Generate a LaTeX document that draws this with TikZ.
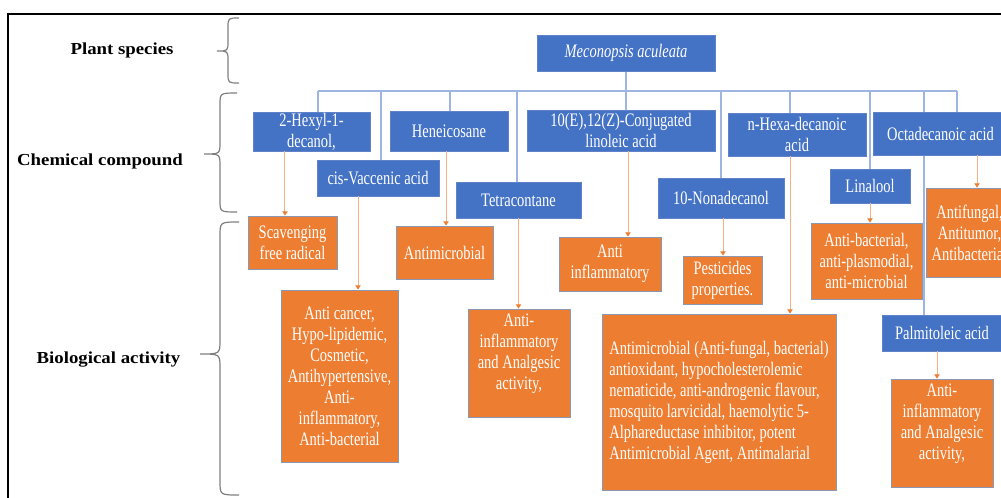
\documentclass[tikz,border=0pt]{standalone}
\usepackage{fontspec}
\setmainfont{Liberation Serif}
\newfontfamily\boxfamily{Liberation Serif}[FakeStretch=0.76]
\newfontfamily\headfamily{Liberation Serif}[FakeStretch=1.12]
\usetikzlibrary{arrows.meta,backgrounds}
\definecolor{compblue}{HTML}{4472C4}
\definecolor{compedge}{HTML}{5F82C9}
\definecolor{actorange}{HTML}{ED7D31}
\definecolor{actedge}{HTML}{8A98B5}
\definecolor{busblue}{HTML}{9DB5E0}
\definecolor{arrowpeach}{HTML}{F4B183}
\definecolor{bracegray}{HTML}{7F7F7F}

\begin{document}
\begin{tikzpicture}[x=0.75pt,y=-0.75pt,
    boxtext/.style={font=\boxfamily\fontsize{14.3pt}{15.75pt}\selectfont},
    compound/.style={boxtext, rectangle, fill=compblue, draw=compedge, line width=0.5pt,
                     text=white, align=center, inner sep=0pt},
    activity/.style={boxtext, rectangle, fill=actorange, draw=actedge, line width=0.6pt,
                     text=white, align=center, inner sep=0pt},
    heading/.style={font=\headfamily\bfseries\fontsize{12.6pt}{15pt}\selectfont},
    bracket/.style={draw=bracegray, line width=0.9pt},
    busline/.style={draw=busblue, line width=1.1pt},
    actarrow/.style={draw=arrowpeach, line width=0.75pt,
                     -{Triangle[length=3.2pt,width=4pt,color=actorange]}}]
    \useasboundingbox (0,0) rectangle (1001,497);
    \draw[line width=1.5pt] (8.3,13.8) rectangle (1040,540);

    % level names and braces
    \node[heading] (plantlbl) at (122,50) {Plant species};
    \node[heading] (complbl) at (100,161) {Chemical compound};
    \node[heading] (biolbl) at (108.5,360) {Biological activity};
    \draw[bracket] (239,18) .. controls (228,18) .. (228,28) -- (228,41)
        .. controls (228,51) .. (217,51) .. controls (228,51) .. (228,61) -- (228,73)
        .. controls (228,83) .. (239,83);
    \draw[bracket] (237,93) .. controls (220,93) .. (220,105) -- (220,142)
        .. controls (220,154) .. (204,154) .. controls (220,154) .. (220,166) -- (220,200)
        .. controls (220,212) .. (237,212);
    \draw[bracket] (239,222) .. controls (220,222) .. (220,236) -- (220,340)
        .. controls (220,354) .. (200,354) .. controls (220,354) .. (220,368) -- (220,481)
        .. controls (220,495) .. (239,495);

    % plant and compounds
    \node[compound, minimum width=133.5pt, minimum height=27pt] (plant) at (626,53) {\itshape Meconopsis aculeata};
    \node[compound, minimum width=87.75pt, minimum height=29.25pt] (hexyl) at (311.5,131.5) {2-Hexyl-1-\\decanol,};
    \node[compound, minimum width=91.5pt, minimum height=27pt] (vaccenic) at (378,178) {cis-Vaccenic acid};
    \node[compound, minimum width=88.5pt, minimum height=30pt] (heneicosane) at (449,131) {Heneicosane};
    \node[compound, minimum width=93.75pt, minimum height=27pt] (tetracontane) at (518.5,200) {Tetracontane};
    \node[compound, minimum width=141pt, minimum height=30.75pt] (linoleic) at (621,130.5) {10(E),12(Z)-Conjugated\\linoleic acid};
    \node[compound, minimum width=94.5pt, minimum height=30pt] (nonadecanol) at (721,198) {10-Nonadecanol};
    \node[compound, minimum width=103.5pt, minimum height=32.25pt] (hexadecanoic) at (797,134.5) {n-Hexa-decanoic\\acid};
    \node[compound, minimum width=60pt, minimum height=25.5pt] (linalool) at (870,186) {Linalool};
    \node[compound, minimum width=101.25pt, minimum height=32.25pt] (octadecanoic) at (940.5,133.5) {Octadecanoic acid};
    \node[compound, minimum width=90pt, minimum height=27pt] (palmitoleic) at (942,333) {Palmitoleic acid};

    % activities
    \node[activity, minimum width=66.75pt, minimum height=39.75pt] (scav) at (292.5,242.5) {Scavenging\\free radical};
    \node[activity, minimum width=87.75pt, minimum height=129pt] (anticancer) at (339.5,376)
        {Anti cancer,\\Hypo-lipidemic,\\Cosmetic,\\Antihypertensive,\\Anti-\\inflammatory,\\Anti-bacterial};
    \node[activity, minimum width=72.75pt, minimum height=39.75pt] (antimicro) at (444.5,252.5) {Antimicrobial};
    \node[activity, minimum width=76.5pt, minimum height=81pt] (analgesicA) at (519,363)
        {\parbox[c][81pt][t]{76.5pt}{\centering\vspace*{4pt}Anti-\\inflammatory\\and Analgesic\\activity,}};
    \node[activity, minimum width=76.5pt, minimum height=40.5pt] (antiinfl) at (610,264) {Anti\\inflammatory};
    \node[activity, minimum width=59.25pt, minimum height=36pt] (pesticides) at (722.5,280) {Pesticides\\properties.};
    \node[activity, minimum width=175.5pt, minimum height=132pt, align=left] (bigbox) at (719,402)
        {Antimicrobial (Anti-fungal, bacterial)\\antioxidant, hypocholesterolemic\\nematicide, anti-androgenic flavour,\\mosquito larvicidal, haemolytic 5-\\Alphareductase inhibitor, potent\\Antimicrobial Agent, Antimalarial};
    \node[activity, minimum width=83.25pt, minimum height=57pt] (antibact) at (866.5,261) {Anti-bacterial,\\anti-plasmodial,\\anti-microbial};
    \node[activity, minimum width=65.25pt, minimum height=66.75pt] (antifungal) at (969.5,232.5) {Antifungal,\\Antitumor,\\Antibacterial};
    \node[activity, minimum width=76.5pt, minimum height=81pt] (analgesicB) at (942,433)
        {\parbox[c][81pt][t]{76.5pt}{\centering\vspace*{4pt}Anti-\\inflammatory\\and Analgesic\\activity,}};

    % tree lines behind the boxes
    \coordinate (busL) at (318,91);
    \coordinate (busR) at (957,91);
    \begin{scope}[on background layer]
        \draw[busline] (plant.south) -- (plant.south |- busL);
        \draw[busline] (busL) -- (busR);
        \foreach \x/\n in {318/hexyl, 381/vaccenic, 450/heneicosane, 517/tetracontane, 626/linoleic,
                           721/nonadecanol, 790/hexadecanoic, 870/linalool, 924/palmitoleic, 957/octadecanoic}{
            \coordinate (drop) at (\x,91);
            \draw[busline] (drop) -- (drop |- \n.north);
        }
    \end{scope}

    % compound -> activity
    \foreach \a/\b/\s in {hexyl/scav/-19.9, vaccenic/anticancer/-15, heneicosane/antimicro/-2.25,
                          tetracontane/analgesicA/0, linoleic/antiinfl/5.25, nonadecanol/pesticides/1.5,
                          hexadecanoic/bigbox/-5.25, linalool/antibact/0, octadecanoic/antifungal/27.4,
                          palmitoleic/analgesicB/-3.75}
        \draw[actarrow] ([xshift=\s pt]\a.south) coordinate (tail) -- (tail |- \b.north);
\end{tikzpicture}
\end{document}
